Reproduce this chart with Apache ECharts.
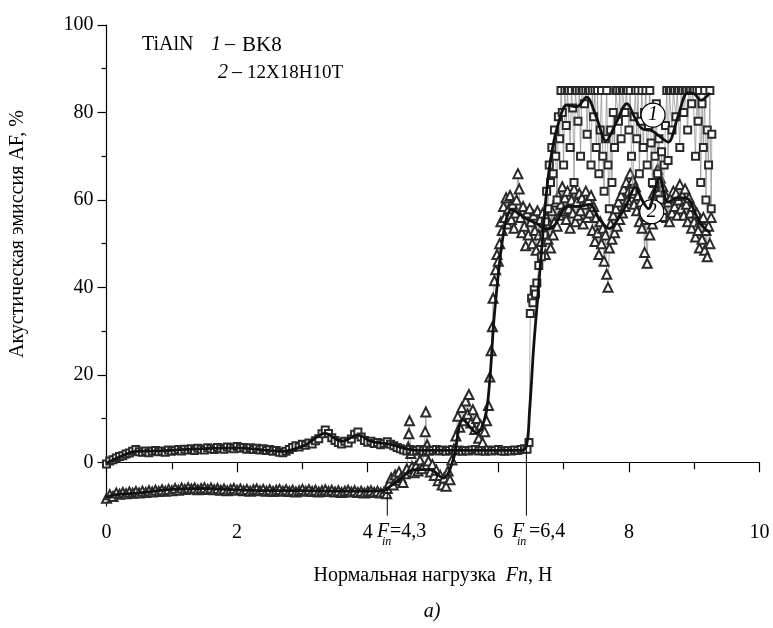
<!DOCTYPE html>
<html><head><meta charset="utf-8">
<script src="https://cdn.jsdelivr.net/npm/echarts@6/dist/echarts.min.js"></script>
<style>html,body{margin:0;padding:0;background:#fff}#c{width:773px;height:628px}</style>
</head><body><div id="c"></div>
<script>
// ---- tick values ----
const yLabelTicks = [0, 20, 40, 60, 80, 100];
const yMinorTicks = [10, 30, 50, 70, 90];
// ---- F_in markers (x value, curve level at that x) ----
const fInX = [4.3, 6.43];
const fInTop = [-5.6, 2.9];
const fInBottom = -12.2;
// ---- smooth fitted curves ----
const fitBK8 = [[0,-0.2],[0.2,1.2],[0.45,2.5],[0.8,2.6],[1.3,3],[2,3.3],[2.7,2.5],[3.05,4],[3.35,6.6],[3.6,4.8],[3.85,6.2],[4.05,4.8],[4.35,4.1],[4.7,2.8],[5.2,2.7],[5.8,2.7],[6.3,2.7],[6.42,3.2],[6.48,12],[6.54,26],[6.6,37],[6.66,48],[6.74,62],[6.82,71],[6.93,78],[7.05,81.7],[7.2,81.3],[7.35,83.5],[7.5,79],[7.65,73.5],[7.8,77.5],[7.97,82],[8.1,78.5],[8.2,76.3],[8.35,75.8],[8.5,74.2],[8.6,73.2],[8.75,79],[8.9,84.5],[9.0,84.3],[9.1,82.8],[9.24,84.5]];
const fit12X = [[0,-8],[0.1,-7.5],[0.5,-7],[1,-6.2],[1.5,-6],[2,-6.3],[2.5,-6.5],[3,-6.5],[3.5,-6.6],[4,-6.6],[4.25,-6.5],[4.35,-5.4],[4.49,-4],[4.7,-1.7],[4.95,-1.7],[5.16,-3.6],[5.31,0.6],[5.46,9.7],[5.67,6.7],[5.8,10.5],[5.87,18.9],[5.93,32],[6.0,43],[6.06,50.5],[6.13,56],[6.2,57.8],[6.3,57],[6.45,55.5],[6.6,54.5],[6.72,53.3],[6.85,54],[6.95,56.5],[7.05,58.5],[7.25,58.5],[7.4,59],[7.55,55.5],[7.7,53.5],[7.85,56],[7.98,59.5],[8.1,63],[8.2,60],[8.3,58],[8.4,62.5],[8.47,65],[8.6,59.5],[8.75,60.5],[8.9,60.3],[9.0,57.5],[9.1,54.5],[9.24,52.5]];
// ---- raw measurements ----
const rawBK8 = [[0.00,-0.4],[0.05,0.3],[0.10,0.6],[0.15,1.0],[0.20,1.3],[0.25,1.5],[0.30,1.9],[0.35,2.1],[0.40,2.5],[0.45,2.9],[0.50,2.4],[0.55,2.3],[0.60,2.6],[0.65,2.2],[0.70,2.5],[0.75,2.7],[0.80,2.4],[0.85,2.6],[0.90,2.3],[0.95,2.8],[1.00,2.5],[1.05,2.7],[1.10,2.9],[1.15,2.6],[1.20,3.0],[1.25,2.8],[1.30,3.1],[1.35,2.7],[1.40,3.2],[1.45,3.0],[1.50,2.8],[1.55,3.3],[1.60,3.1],[1.65,2.9],[1.70,3.4],[1.75,3.2],[1.80,3.0],[1.85,3.5],[1.90,3.3],[1.95,3.1],[2.00,3.6],[2.05,3.2],[2.10,3.4],[2.15,3.0],[2.20,3.3],[2.25,2.9],[2.30,3.2],[2.35,2.8],[2.40,3.1],[2.45,2.7],[2.50,2.9],[2.55,2.5],[2.60,2.7],[2.65,2.3],[2.70,2.2],[2.75,2.5],[2.80,2.9],[2.85,3.4],[2.90,3.8],[2.95,3.5],[3.00,4.1],[3.05,3.9],[3.10,4.4],[3.15,4.2],[3.20,4.9],[3.25,5.4],[3.30,6.5],[3.35,7.4],[3.40,6.6],[3.45,5.6],[3.50,5.0],[3.55,4.5],[3.60,4.2],[3.65,4.8],[3.70,4.4],[3.75,5.3],[3.80,6.4],[3.85,6.9],[3.90,5.8],[3.95,5.0],[4.00,4.6],[4.05,4.8],[4.10,4.3],[4.15,4.5],[4.20,4.0],[4.25,4.3],[4.30,4.7],[4.35,4.1],[4.40,3.8],[4.45,3.4],[4.50,3.1],[4.55,2.8],[4.60,2.6],[4.65,2.9],[4.70,2.5],[4.75,2.7],[4.80,2.9],[4.85,2.6],[4.90,2.8],[4.95,2.5],[5.00,2.7],[5.05,2.9],[5.10,2.6],[5.15,2.8],[5.20,2.5],[5.25,2.7],[5.30,2.9],[5.35,2.6],[5.40,2.8],[5.45,2.5],[5.50,2.7],[5.55,2.6],[5.60,2.8],[5.65,2.9],[5.70,2.6],[5.75,2.7],[5.80,2.5],[5.85,2.8],[5.90,2.6],[5.95,2.7],[6.00,2.9],[6.05,2.6],[6.10,2.5],[6.15,2.7],[6.20,2.6],[6.25,2.8],[6.30,2.7],[6.35,2.9],[6.40,3.1],[6.44,3.0],[6.47,4.5],[6.49,34],[6.51,37.5],[6.53,36.5],[6.55,39.5],[6.57,38.5],[6.59,41],[6.62,45],[6.66,47],[6.70,52],[6.72,55],[6.74,62],[6.76,58],[6.78,68],[6.80,64],[6.82,72],[6.84,66],[6.86,76],[6.88,70],[6.90,60],[6.92,79],[6.94,74],[6.96,85],[6.98,80],[7.00,68],[7.02,85],[7.04,77],[7.06,85],[7.08,85],[7.10,72],[7.12,85],[7.14,81],[7.16,64],[7.18,85],[7.20,85],[7.22,78],[7.24,85],[7.26,70],[7.28,85],[7.30,85],[7.32,82],[7.34,85],[7.36,75],[7.38,85],[7.40,85],[7.42,68],[7.44,85],[7.46,79],[7.48,85],[7.50,72],[7.52,85],[7.54,66],[7.56,76],[7.58,85],[7.60,70],[7.62,62],[7.64,74],[7.66,85],[7.68,68],[7.70,58],[7.72,76],[7.74,64],[7.76,80],[7.78,72],[7.80,85],[7.82,85],[7.84,78],[7.86,85],[7.88,74],[7.90,85],[7.92,85],[7.94,80],[7.96,85],[7.98,85],[8.00,76],[8.02,85],[8.04,70],[8.06,62],[8.08,79],[8.10,85],[8.12,74],[8.14,85],[8.16,66],[8.18,78],[8.20,85],[8.22,72],[8.24,80],[8.26,85],[8.28,68],[8.30,77],[8.32,85],[8.34,73],[8.36,64],[8.38,78],[8.40,70],[8.42,82],[8.44,66],[8.46,74],[8.48,60],[8.50,71],[8.52,56],[8.54,68],[8.56,77],[8.58,85],[8.60,69],[8.62,85],[8.64,85],[8.66,76],[8.68,85],[8.70,85],[8.72,79],[8.74,85],[8.76,85],[8.78,72],[8.80,85],[8.82,85],[8.84,80],[8.86,85],[8.88,85],[8.90,76],[8.92,85],[8.94,85],[8.96,82],[8.98,85],[9.00,85],[9.02,70],[9.04,85],[9.06,78],[9.08,85],[9.10,64],[9.12,82],[9.14,72],[9.16,85],[9.18,60],[9.20,76],[9.22,68],[9.24,85],[9.26,58],[9.27,75]];
const raw12X = [[0.00,-8.2],[0.05,-7.4],[0.10,-7.8],[0.15,-7.0],[0.20,-7.3],[0.25,-6.9],[0.30,-7.2],[0.35,-6.8],[0.40,-7.1],[0.45,-6.7],[0.50,-7.0],[0.55,-6.6],[0.60,-6.9],[0.65,-6.5],[0.70,-6.8],[0.75,-6.4],[0.80,-6.7],[0.85,-6.3],[0.90,-6.6],[0.95,-6.2],[1.00,-6.5],[1.05,-6.0],[1.10,-6.4],[1.15,-5.9],[1.20,-6.2],[1.25,-5.8],[1.30,-6.1],[1.35,-5.9],[1.40,-6.3],[1.45,-6.0],[1.50,-5.8],[1.55,-6.2],[1.60,-5.9],[1.65,-6.3],[1.70,-6.0],[1.75,-6.4],[1.80,-6.1],[1.85,-6.5],[1.90,-6.2],[1.95,-6.0],[2.00,-6.4],[2.05,-6.1],[2.10,-6.5],[2.15,-6.2],[2.20,-6.6],[2.25,-6.3],[2.30,-6.1],[2.35,-6.5],[2.40,-6.2],[2.45,-6.6],[2.50,-6.3],[2.55,-6.7],[2.60,-6.4],[2.65,-6.2],[2.70,-6.6],[2.75,-6.3],[2.80,-6.7],[2.85,-6.4],[2.90,-6.8],[2.95,-6.5],[3.00,-6.2],[3.05,-6.6],[3.10,-6.3],[3.15,-6.7],[3.20,-6.4],[3.25,-6.8],[3.30,-6.5],[3.35,-6.3],[3.40,-6.7],[3.45,-6.4],[3.50,-6.8],[3.55,-6.5],[3.60,-6.9],[3.65,-6.6],[3.70,-6.4],[3.75,-6.8],[3.80,-6.5],[3.85,-6.9],[3.90,-6.6],[3.95,-7.0],[4.00,-6.7],[4.05,-6.5],[4.10,-6.9],[4.15,-6.6],[4.20,-7.0],[4.25,-6.8],[4.29,-7.2],[4.30,-6.0],[4.33,-4.8],[4.36,-3.6],[4.39,-5.2],[4.42,-2.9],[4.45,-4.1],[4.48,-2.2],[4.51,-3.5],[4.54,-4.6],[4.57,-2.6],[4.60,-1.5],[4.62,3.5],[4.63,6.5],[4.64,9.5],[4.66,2.0],[4.68,-1.0],[4.71,-2.4],[4.74,-0.8],[4.77,-2.0],[4.80,0.5],[4.83,-1.5],[4.86,2.5],[4.88,7.0],[4.89,11.5],[4.91,4.0],[4.93,0.3],[4.96,-2.2],[4.99,-0.5],[5.02,-3.0],[5.05,-1.8],[5.08,-4.2],[5.11,-3.0],[5.14,-5.2],[5.17,-3.6],[5.20,-5.5],[5.23,-2.0],[5.26,-4.0],[5.29,0.5],[5.32,3.0],[5.35,6.0],[5.38,10.5],[5.41,8.0],[5.44,12.5],[5.47,9.5],[5.50,14.0],[5.53,11.0],[5.55,15.5],[5.58,9.0],[5.61,12.0],[5.64,7.5],[5.67,10.0],[5.70,5.5],[5.73,8.5],[5.76,4.5],[5.79,7.0],[5.82,9.5],[5.85,13.0],[5.87,19.5],[5.89,25.5],[5.91,31.0],[5.92,37.5],[5.94,41.5],[5.96,44.0],[5.98,47.5],[6.00,46.0],[6.02,50.0],[6.04,55.0],[6.06,53.0],[6.08,58.5],[6.10,56.0],[6.12,60.5],[6.14,54.5],[6.16,58.0],[6.18,61.0],[6.20,55.5],[6.22,59.0],[6.24,53.5],[6.26,57.0],[6.28,60.0],[6.30,66.0],[6.32,62.5],[6.34,56.0],[6.36,52.5],[6.38,58.5],[6.40,54.0],[6.42,49.5],[6.44,57.0],[6.46,52.0],[6.48,58.0],[6.50,55.0],[6.52,50.0],[6.54,56.5],[6.56,53.0],[6.58,48.5],[6.60,57.5],[6.62,52.0],[6.64,55.5],[6.66,50.5],[6.68,57.0],[6.70,53.0],[6.72,47.5],[6.74,56.0],[6.76,51.0],[6.78,54.5],[6.80,49.0],[6.82,57.5],[6.84,52.0],[6.86,55.0],[6.88,59.5],[6.90,54.0],[6.92,61.0],[6.94,56.5],[6.96,59.0],[6.98,63.0],[7.00,57.5],[7.02,60.5],[7.04,55.5],[7.06,62.0],[7.08,58.0],[7.10,53.5],[7.12,60.0],[7.14,57.0],[7.16,62.5],[7.18,55.0],[7.20,59.5],[7.22,56.5],[7.24,61.5],[7.26,57.5],[7.28,60.5],[7.30,54.5],[7.32,59.0],[7.34,62.0],[7.36,56.0],[7.38,60.0],[7.40,57.0],[7.42,61.0],[7.44,53.0],[7.46,58.5],[7.48,50.5],[7.50,56.0],[7.52,52.5],[7.54,47.5],[7.56,55.0],[7.58,50.0],[7.60,53.5],[7.62,46.0],[7.64,52.0],[7.66,43.0],[7.68,40.0],[7.70,49.0],[7.72,54.5],[7.74,51.0],[7.76,56.5],[7.78,52.5],[7.80,58.0],[7.82,54.0],[7.84,59.5],[7.86,55.5],[7.88,61.0],[7.90,57.0],[7.92,62.5],[7.94,58.5],[7.96,64.0],[7.98,60.0],[8.00,62.0],[8.02,66.0],[8.04,61.5],[8.06,64.5],[8.08,59.0],[8.10,63.0],[8.12,57.5],[8.14,61.0],[8.16,55.0],[8.18,59.5],[8.20,53.5],[8.22,58.0],[8.24,48.0],[8.26,55.5],[8.28,45.5],[8.30,56.5],[8.32,52.0],[8.34,59.0],[8.36,54.5],[8.38,61.5],[8.40,64.0],[8.42,59.0],[8.44,67.0],[8.46,62.0],[8.48,65.0],[8.50,60.0],[8.52,63.0],[8.54,57.5],[8.56,61.0],[8.58,56.0],[8.60,59.5],[8.62,55.0],[8.64,60.5],[8.66,57.0],[8.68,62.0],[8.70,58.5],[8.72,61.5],[8.74,56.5],[8.76,60.0],[8.78,63.5],[8.80,58.0],[8.82,61.0],[8.84,56.5],[8.86,62.5],[8.88,59.0],[8.90,55.0],[8.92,60.5],[8.94,57.0],[8.96,53.5],[8.98,58.5],[9.00,55.0],[9.02,51.5],[9.04,57.0],[9.06,53.0],[9.08,49.0],[9.10,55.5],[9.12,51.0],[9.14,56.0],[9.16,48.5],[9.18,53.0],[9.20,47.0],[9.22,54.0],[9.24,50.0],[9.26,56.0]];
// ---- curve tag positions ----
const tag1 = [8.37, 79.4];
const tag2 = [8.35, 57.3];

const FF = '"Liberation Serif", "Times New Roman", serif';
const FS = 20;
const chart = echarts.init(document.getElementById('c'), null, {renderer: 'canvas'});

function tagPoint(coord, txt) {
  return {
    coord: coord, symbol: 'circle', symbolSize: 24,
    itemStyle: {color: '#fff', borderColor: '#000', borderWidth: 1.2},
    label: {show: true, position: 'inside', formatter: txt, fontFamily: FF, fontStyle: 'italic', fontSize: FS, color: '#000'}
  };
}
function fInSeries(i) {
  return {
    type: 'line', data: [[fInX[i], fInBottom], [fInX[i], fInTop[i]]], clip: false,
    symbol: 'none', lineStyle: {color: '#000', width: 1}, z: 6, silent: true
  };
}
function txt(x, y, s, extra) {
  return {type: 'text', x: x, y: y, style: Object.assign({text: s, fontFamily: FF, fontSize: FS, fill: '#000', verticalAlign: 'middle'}, extra || {})};
}

const option = {
  backgroundColor: '#fff',
  animation: false,
  grid: {left: 106.5, right: 13.5, top: 25, bottom: 122},
  xAxis: {
    type: 'value', min: 0, max: 10, interval: 2,
    axisLine: {lineStyle: {color: '#000', width: 1.2}},
    axisTick: {length: 10, lineStyle: {color: '#000', width: 1.2}},
    minorTick: {show: true, splitNumber: 2, length: 7, lineStyle: {color: '#000', width: 1.2}},
    splitLine: {show: false},
    axisLabel: {fontFamily: FF, fontSize: FS, color: '#000', margin: 17},
    name: '{n|Нормальная нагрузка  }{i|Fn}{n|, Н}',
    nameLocation: 'middle', nameGap: 60,
    nameTextStyle: {rich: {
      n: {fontFamily: FF, fontSize: FS, color: '#000'},
      i: {fontFamily: FF, fontSize: FS, color: '#000', fontStyle: 'italic'}
    }}
  },
  yAxis: [{
    type: 'value', min: -10, max: 100,
    axisLine: {show: true, lineStyle: {color: '#000', width: 1.2}},
    axisTick: {show: true, length: 9, customValues: yLabelTicks, lineStyle: {color: '#000', width: 1.2}},
    axisLabel: {fontFamily: FF, fontSize: FS, color: '#000', margin: 13, customValues: yLabelTicks},
    splitLine: {show: false}
  }, {
    type: 'value', min: -10, max: 100, position: 'left',
    axisLine: {show: false},
    axisTick: {show: true, length: 5, customValues: yMinorTicks, lineStyle: {color: '#000', width: 1.2}},
    axisLabel: {show: false},
    splitLine: {show: false}
  }],
  series: [
    {
      name: 'raw12X', type: 'line', data: raw12X, symbol: 'emptyTriangle', symbolSize: 9,
      lineStyle: {color: '#888', width: 0.7}, itemStyle: {color: '#2a2a2a', borderWidth: 1}, z: 2, silent: true
    },
    {
      name: 'rawBK8', type: 'line', data: rawBK8, symbol: 'emptyRect', symbolSize: 7,
      lineStyle: {color: '#888', width: 0.7}, itemStyle: {color: '#2a2a2a', borderWidth: 1}, z: 3, silent: true
    },
    {
      name: 'fitBK8', type: 'line', data: fitBK8, smooth: 0.35, symbol: 'none',
      lineStyle: {color: '#111', width: 2.8}, z: 5, silent: true,
      markPoint: {data: [tagPoint(tag1, '1')], silent: true}
    },
    {
      name: 'fit12X', type: 'line', data: fit12X, smooth: 0.35, symbol: 'none',
      lineStyle: {color: '#111', width: 2.8}, z: 5, silent: true,
      markPoint: {data: [tagPoint(tag2, '2')], silent: true}
    },
    fInSeries(0), fInSeries(1)
  ],
  graphic: [
    {type: 'text', x: 17.5, y: 234, rotation: Math.PI / 2,
     style: {text: 'Акустическая эмиссия AF, %', fontFamily: FF, fontSize: FS, fill: '#000', align: 'center', verticalAlign: 'middle'}},
    txt(142, 45, 'TiAlN'),
    txt(211, 45, '1', {fontStyle: 'italic'}),
    txt(225, 45, '–'),
    txt(242, 45, 'BK8', {fontSize: 21}),
    txt(218, 73, '2', {fontStyle: 'italic'}),
    txt(232, 73, '–'),
    txt(247, 73, '12X18H10T', {fontSize: 19}),
    // F_in labels
    txt(377, 532, 'F', {fontStyle: 'italic'}),
    txt(382, 542, 'in', {fontStyle: 'italic', fontSize: 12}),
    txt(390, 532, '=4,3'),
    txt(512, 532, 'F', {fontStyle: 'italic'}),
    txt(517, 542, 'in', {fontStyle: 'italic', fontSize: 12}),
    txt(529, 532, '=6,4'),
    txt(432, 612, 'a)', {fontStyle: 'italic', align: 'center'})
  ]
};
chart.setOption(option);
</script>
</body></html>
